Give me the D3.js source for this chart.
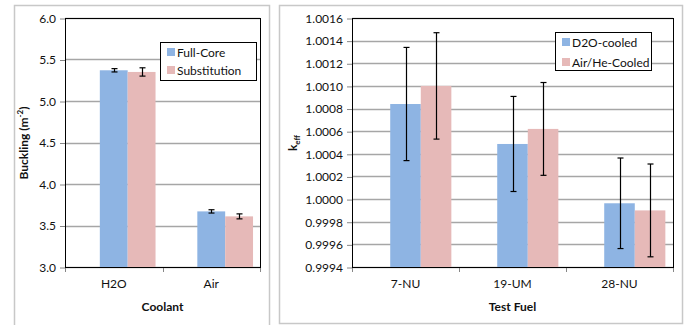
<!DOCTYPE html>
<html>
<head>
<meta charset="utf-8">
<script src="https://cdn.jsdelivr.net/npm/d3@7"></script>
<style>
  body { margin: 0; background: #fff; }
  svg { font-family: Lato, "Liberation Sans", sans-serif; }
</style>
</head>
<body>
<svg id="chart" width="684" height="325"></svg>
<script>
// left chart data
var coolants = ["H2O", "Air"];
var fullCore = [5.37, 3.67];
var fullCoreErr = [0.02, 0.02];
var substitution = [5.35, 3.61];
var substitutionErr = [0.05, 0.03];
var leftTicks = [3.0, 3.5, 4.0, 4.5, 5.0, 5.5, 6.0];

// right chart data
var fuels = ["7-NU", "19-UM", "28-NU"];
var d2o = [1.00084, 1.000487, 0.999963];
var d2oErr = [0.0005, 0.00042, 0.0004];
var airHe = [1.0010, 1.00062, 0.9999];
var airHeErr = [0.00047, 0.00041, 0.00041];
var rightTicks = [0.9994, 0.9996, 0.9998, 1.0000, 1.0002, 1.0004, 1.0006, 1.0008, 1.0010, 1.0012, 1.0014, 1.0016];

var blue = "#8eb4e3";
var pink = "#e6b9b8";
var gridColor = "#a6a6a6";

var svg = d3.select("#chart");

// panel frames
svg.append("rect").attr("x", 14.5).attr("y", 5.5).attr("width", 255).attr("height", 330)
  .attr("fill", "none").attr("stroke", "#c8c8c8").attr("stroke-width", 1.5);
svg.append("rect").attr("x", 279.5).attr("y", 5.5).attr("width", 403).attr("height", 318)
  .attr("fill", "none").attr("stroke", "#c8c8c8").attr("stroke-width", 1.5);

function drawChart(opt) {
  var g = svg.append("g");
  var x = d3.scaleBand().domain(opt.cats).range([opt.x0, opt.x1]);
  var y = d3.scaleLinear().domain(opt.domain).range([opt.y1, opt.y0]);
  var bw = x.bandwidth() / 3.5;

  // gridlines
  g.selectAll(".grid").data(opt.ticks).enter().append("line")
    .attr("x1", opt.x0).attr("x2", opt.x1)
    .attr("y1", function(d) { return Math.round(y(d)) + 0.5; })
    .attr("y2", function(d) { return Math.round(y(d)) + 0.5; })
    .attr("stroke", gridColor).attr("stroke-width", 1.3);

  // y axis
  var yAxis = g.append("g")
    .attr("transform", "translate(" + opt.x0 + ",0.5)")
    .call(d3.axisLeft(y).tickValues(opt.ticks).tickFormat(opt.fmt).tickSize(5).tickPadding(4));
  yAxis.select(".domain").remove();
  yAxis.selectAll("line").attr("stroke", "#868686");
  yAxis.selectAll("text").attr("font-size", 12).attr("fill", "#111")
    .attr("font-family", "Lato, sans-serif");

  // x axis ticks at band boundaries
  var bounds = opt.cats.map(function(c) { return x(c); }).concat([opt.x1]);
  g.selectAll(".xt").data(bounds).enter().append("line")
    .attr("x1", function(d) { return Math.round(d) + 0.5; })
    .attr("x2", function(d) { return Math.round(d) + 0.5; })
    .attr("y1", opt.y1).attr("y2", opt.y1 + 5)
    .attr("stroke", "#868686");
  g.selectAll(".xl").data(opt.cats).enter().append("text")
    .attr("x", function(d) { return x(d) + x.bandwidth() / 2; })
    .attr("y", opt.y1 + 21)
    .attr("text-anchor", "middle").attr("font-size", 12).attr("fill", "#111")
    .text(function(d) { return d; });

  // bars
  opt.series.forEach(function(s, si) {
    var bars = g.selectAll(".bar" + si).data(opt.cats).enter();
    bars.append("rect")
      .attr("x", function(d) { return x(d) + 1.25 * bw + si * bw; })
      .attr("width", bw)
      .attr("y", function(d, i) { return y(s.values[i]); })
      .attr("height", function(d, i) { return opt.y1 - y(s.values[i]); })
      .attr("fill", s.color);
  });

  // error bars
  opt.series.forEach(function(s, si) {
    opt.cats.forEach(function(c, i) {
      var cx = Math.round(x(c) + 1.25 * bw + si * bw + bw / 2) + 0.5;
      var top = y(s.values[i] + s.err[i]);
      var bot = y(s.values[i] - s.err[i]);
      g.append("line").attr("x1", cx).attr("x2", cx).attr("y1", top).attr("y2", bot)
        .attr("stroke", "#000").attr("stroke-width", 1.2);
      [top, bot].forEach(function(yy) {
        g.append("line").attr("x1", cx - 3).attr("x2", cx + 3).attr("y1", yy).attr("y2", yy)
          .attr("stroke", "#000").attr("stroke-width", 1.2);
      });
    });
  });

  // plot border
  g.append("rect").attr("x", opt.x0 + 0.5).attr("y", opt.y0 + 0.5)
    .attr("width", opt.x1 - opt.x0).attr("height", opt.y1 - opt.y0)
    .attr("fill", "none").attr("stroke", "#000").attr("stroke-width", 1);

  // legend
  var lg = g.append("g");
  lg.append("rect").attr("x", opt.leg[0] + 0.5).attr("y", opt.leg[1] + 0.5)
    .attr("width", opt.leg[2]).attr("height", opt.leg[3])
    .attr("fill", "#fff").attr("stroke", "#000");
  opt.series.forEach(function(s, si) {
    var ly = opt.leg[1] + 6 + si * opt.legStep;
    lg.append("rect").attr("x", opt.leg[0] + 7).attr("y", ly)
      .attr("width", 8).attr("height", 8).attr("fill", s.color);
    lg.append("text").attr("x", opt.leg[0] + 17).attr("y", ly + 8.5)
      .attr("font-size", 12).attr("fill", "#111").text(s.name);
  });

  // x title
  g.append("text").attr("x", (opt.x0 + opt.x1) / 2).attr("y", opt.y1 + 44)
    .attr("text-anchor", "middle").attr("font-size", 12).attr("font-weight", "bold")
    .attr("fill", "#111").text(opt.xTitle);

  return g;
}

drawChart({
  cats: coolants, domain: [3.0, 6.0], ticks: leftTicks,
  fmt: d3.format(".1f"),
  x0: 65, x1: 260, y0: 18, y1: 267,
  series: [
    { name: "Full-Core", values: fullCore, err: fullCoreErr, color: blue },
    { name: "Substitution", values: substitution, err: substitutionErr, color: pink }
  ],
  leg: [160, 42, 96, 38], legStep: 18,
  xTitle: "Coolant"
});

drawChart({
  cats: fuels, domain: [0.9994, 1.0016], ticks: rightTicks,
  fmt: d3.format(".4f"),
  x0: 352, x1: 673, y0: 18, y1: 267,
  series: [
    { name: "D2O-cooled", values: d2o, err: d2oErr, color: blue },
    { name: "Air/He-Cooled", values: airHe, err: airHeErr, color: pink }
  ],
  leg: [555, 32, 96, 38], legStep: 20,
  xTitle: "Test Fuel"
});

// y titles
var lt = svg.append("text").attr("transform", "translate(28,143) rotate(-90)")
  .attr("text-anchor", "middle").attr("font-size", 12).attr("font-weight", "bold").attr("fill", "#111");
lt.append("tspan").text("Buckling (m");
lt.append("tspan").attr("font-size", 8).attr("dy", -5).text("-2");
lt.append("tspan").attr("dy", 5).text(")");

var rt = svg.append("text").attr("transform", "translate(297,143) rotate(-90)")
  .attr("text-anchor", "middle").attr("font-size", 12).attr("font-weight", "bold").attr("fill", "#111");
rt.append("tspan").text("k");
rt.append("tspan").attr("font-size", 8).attr("dy", 3).text("eff");
</script>
</body>
</html>
